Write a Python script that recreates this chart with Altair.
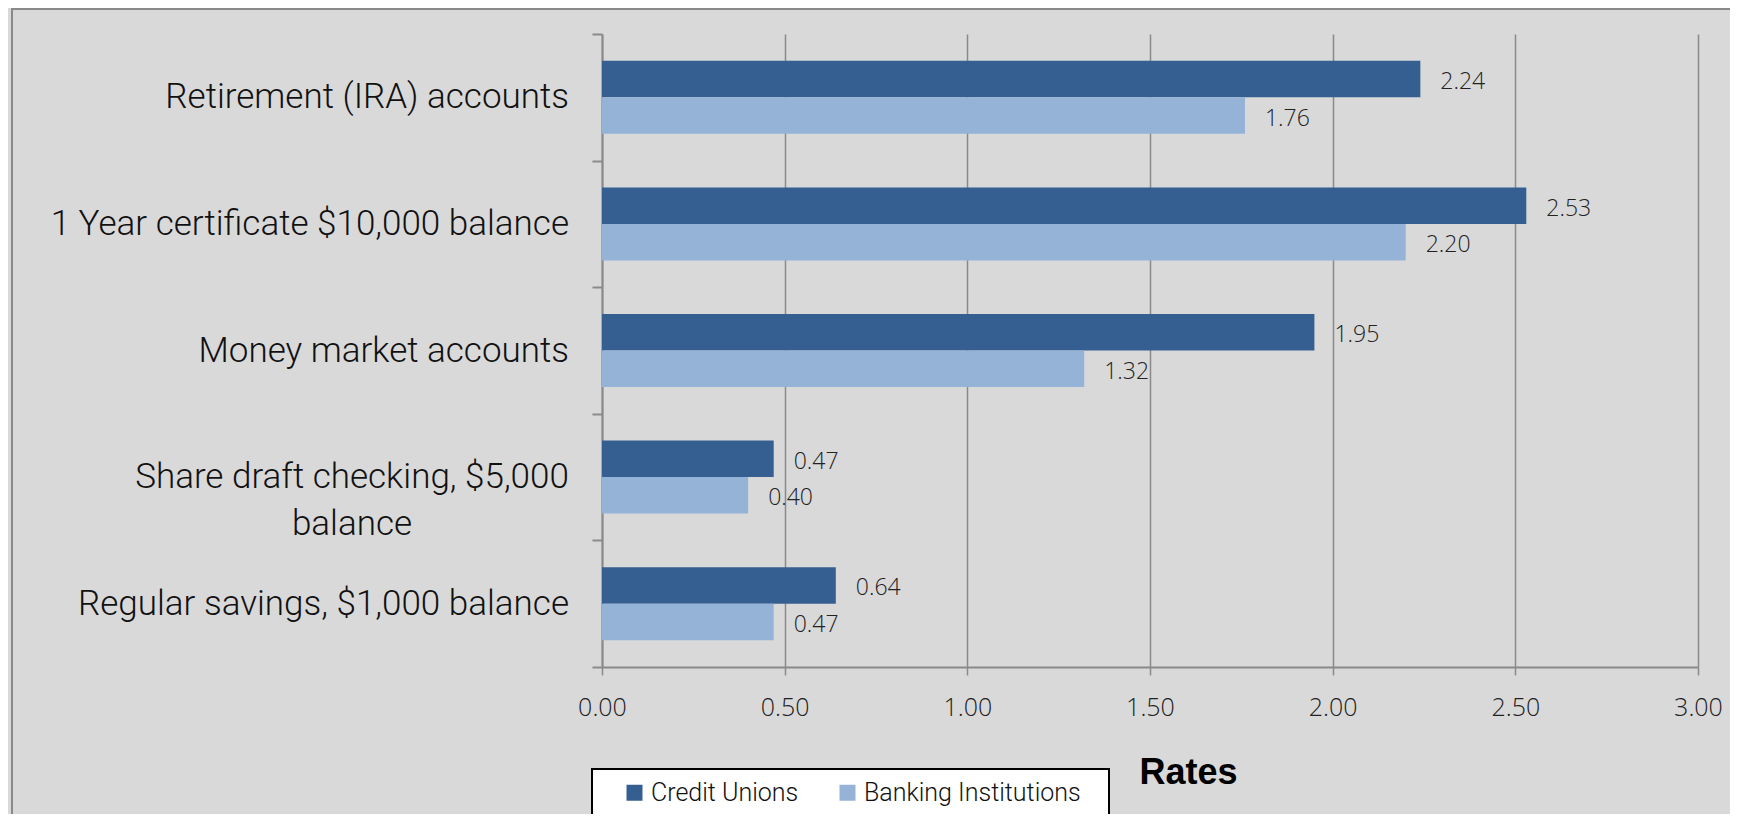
import altair as alt
import pandas as pd

categories = [
    "Retirement (IRA) accounts",
    "1 Year certificate $10,000 balance",
    "Money market accounts",
    "Share draft checking, $5,000 balance",
    "Regular savings, $1,000 balance",
]
# how each category label is wrapped in the picture
wrapped = [
    "Retirement (IRA) accounts",
    "1 Year certificate $10,000 balance",
    "Money market accounts",
    "Share draft checking, $5,000\nbalance",
    "Regular savings, $1,000 balance",
]
series = ["Credit Unions", "Banking Institutions"]
credit_unions = [2.24, 2.53, 1.95, 0.47, 0.64]
banking = [1.76, 2.20, 1.32, 0.40, 0.47]
x_ticks = [0.0, 0.5, 1.0, 1.5, 2.0, 2.5, 3.0]
colors = ["#355F91", "#95B3D7"]

rows = []
for c, a, b in zip(categories, credit_unions, banking):
    rows.append({"category": c, "series": series[0], "rate": a})
    rows.append({"category": c, "series": series[1], "rate": b})
df = pd.DataFrame(rows)
cat_df = pd.DataFrame({"category": categories, "label": wrapped})
cat_df["multi"] = cat_df["label"].str.contains("\n")

LIGHT = "Roboto, Liberation Sans, sans-serif"
REG = "Open Sans, Liberation Sans, sans-serif"

y_enc = alt.Y(
    "category:N",
    sort=categories,
    scale=alt.Scale(paddingInner=0, paddingOuter=0),
    axis=alt.Axis(
        title=None,
        tickBand="extent",
        grid=False,
        labels=False,
        domainColor="#8a8a8a",
        domainWidth=2,
        tickColor="#8a8a8a",
        tickWidth=2,
        tickSize=10,
    ),
)
yoff_enc = alt.YOffset(
    "series:N", sort=series, scale=alt.Scale(paddingInner=0, paddingOuter=0.734)
)
x_enc = alt.X(
    "rate:Q",
    scale=alt.Scale(domain=[0, 3], nice=False),
    axis=alt.Axis(
        values=x_ticks,
        format=".2f",
        title="Rates",
        titleFont="Liberation Sans, Arial, sans-serif",
        titleFontSize=36,
        titleFontWeight="bold",
        titleColor="#000000",
        titleX=586,
        titleY=116,
        titleAlign="center",
        titleBaseline="alphabetic",
        grid=True,
        gridColor="#8a8a8a",
        gridWidth=1.5,
        domainColor="#8a8a8a",
        domainWidth=2,
        tickColor="#8a8a8a",
        tickWidth=1.5,
        tickSize=8,
        labelFont=REG,
        labelFontWeight=300,
        labelFontSize=25,
        labelColor="#222222",
        labelBaseline="middle",
        labelFlush=False,
        labelPadding=32,
    ),
)

bars = alt.Chart(df).mark_bar().encode(
    y=y_enc,
    yOffset=yoff_enc,
    x=x_enc,
    color=alt.Color(
        "series:N",
        sort=series,
        scale=alt.Scale(domain=series, range=colors),
        legend=alt.Legend(
            title=None,
            orient="none",
            legendX=20,
            legendY=746,
            direction="horizontal",
            symbolType="square",
            symbolSize=256,
            symbolStrokeWidth=0,
            labelFont=LIGHT,
            labelFontWeight=300,
            labelFontSize=25,
            labelColor="#111111",
            labelOffset=4,
            labelLimit=400,
            columnPadding=36,
        ),
    ),
)

texts = alt.Chart(df).mark_text(
    align="left", baseline="middle", dx=20, dy=3, font=REG, fontWeight=300,
    fontSize=23, color="#222222"
).encode(
    y=alt.Y("category:N", sort=categories),
    yOffset=alt.YOffset("series:N", sort=series),
    x=alt.X("rate:Q"),
    text=alt.Text("rate:Q", format=".2f"),
)

cat_single = alt.Chart(cat_df).transform_filter("!datum.multi").mark_text(
    align="right", baseline="middle", font=LIGHT, fontWeight=300, fontSize=35,
    color="#111111"
).encode(
    y=alt.Y("category:N", sort=categories),
    x=alt.value(-33),
    text="label:N",
)
cat_multi = alt.Chart(cat_df).transform_filter("datum.multi").mark_text(
    align="center", baseline="middle", font=LIGHT, fontWeight=300, fontSize=35,
    color="#111111", lineBreak="\n", lineHeight=47
).encode(
    y=alt.Y("category:N", sort=categories),
    x=alt.value(-250),
    text="label:N",
)

one = pd.DataFrame({"k": [0]})
frame = alt.Chart(one).mark_rect(
    fill="transparent", stroke="#8a8a8a", strokeWidth=2
).encode(
    x=alt.value(-590), x2=alt.value(1250), y=alt.value(-25), y2=alt.value(900)
)
legend_box = alt.Chart(one).mark_rect(
    fill="#ffffff", stroke="#000000", strokeWidth=2
).encode(
    x=alt.value(-10), x2=alt.value(507), y=alt.value(735), y2=alt.value(782)
)

chart = (
    alt.layer(frame, legend_box, bars, texts, cat_single, cat_multi)
    .properties(
        width=1096,
        height=633,
        autosize=alt.AutoSizeParams(type="none"),
        padding={"left": 594, "top": 26, "right": 32, "bottom": 147},
    )
    .configure(background="#D9D9D9")
    .configure_view(strokeWidth=0)
)

chart.save("out.html", embed_options={"renderer": "svg", "actions": False})
